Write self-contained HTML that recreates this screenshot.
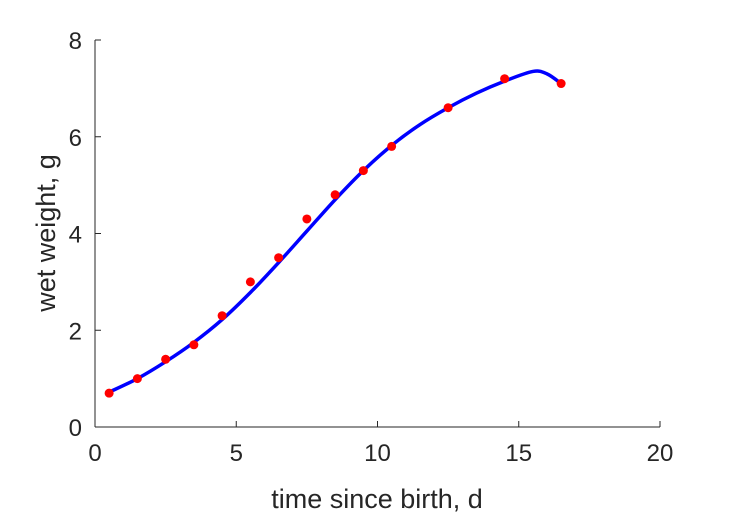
<!DOCTYPE html>
<html><head><meta charset="utf-8"><style>
body{margin:0;background:#fff}
svg{display:block;font-family:"Liberation Sans",sans-serif}
</style></head><body>
<svg id="chart" width="729" height="521" viewBox="0 0 729 521" xmlns="http://www.w3.org/2000/svg">
<rect width="729" height="521" fill="#fff"/>
<g id="axes"></g>
<g id="series"></g>
<text x="377" y="508" font-size="27" text-anchor="middle" fill="#262626">time since birth, d</text>
<text transform="translate(55,233) rotate(-90)" font-size="27" text-anchor="middle" fill="#262626">wet weight, g</text>
</svg>
<script>
const xTicks=[0,5,10,15,20];
const yTicks=[0,2,4,6,8];
const dataX=[0.5,1.5,2.5,3.5,4.5,5.5,6.5,7.5,8.5,9.5,10.5,12.5,14.5,16.5];
const dataY=[0.7,1.0,1.4,1.7,2.3,3.0,3.5,4.3,4.8,5.3,5.8,6.6,7.2,7.1];
const fitX=[0.5,1.5,2.5,3.5,4.5,5.5,6.5,7.5,8.5,9.5,10.5,11.5,12.5,13.5,14.5,15.5,16.0,16.5];
const fitY=[0.72,1.0,1.35,1.75,2.22,2.78,3.4,4.05,4.7,5.3,5.82,6.25,6.6,6.9,7.15,7.35,7.3,7.1];
const X0=95,X1=660,Y0=427,Y1=40;
const sx=v=>X0+(v-0)/(20-0)*(X1-X0);
const sy=v=>Y0-(v-0)/(8-0)*(Y0-Y1);
const NS="http://www.w3.org/2000/svg";
const axes=document.getElementById('axes'),ser=document.getElementById('series');
function mk(t,a,p){const e=document.createElementNS(NS,t);for(const k in a)e.setAttribute(k,a[k]);p.appendChild(e);return e;}
let xl=mk('line',{x1:X0,y1:Y0,x2:X1,y2:Y0,stroke:'#262626','stroke-width':1},axes);


let yl=mk('line',{x1:X0,y1:Y0,x2:X0,y2:Y1,stroke:'#262626','stroke-width':1},axes);


xTicks.forEach(t=>{
 mk('line',{x1:sx(t),y1:Y0,x2:sx(t),y2:Y0-6,stroke:'#262626'},axes);
 const tx=mk('text',{x:sx(t),y:Y0+34,'font-size':24,'text-anchor':'middle',fill:'#262626'},axes);
 tx.textContent=t;
 
 
});
yTicks.forEach(t=>{
 mk('line',{x1:X0,y1:sy(t),x2:X0+6,y2:sy(t),stroke:'#262626'},axes);
 const tx=mk('text',{x:X0-13,y:sy(t)+9,'font-size':24,'text-anchor':'end',fill:'#262626'},axes);
 tx.textContent=t;
 
 
});
// Catmull-Rom path
const P=fitX.map((x,i)=>[sx(x),sy(fitY[i])]);
let d='M'+P[0][0]+','+P[0][1];
for(let i=0;i<P.length-1;i++){
 const p0=P[Math.max(i-1,0)],p1=P[i],p2=P[i+1],p3=P[Math.min(i+2,P.length-1)];
 d+=' C'+(p1[0]+(p2[0]-p0[0])/6)+','+(p1[1]+(p2[1]-p0[1])/6)+' '+(p2[0]-(p3[0]-p1[0])/6)+','+(p2[1]-(p3[1]-p1[1])/6)+' '+p2[0]+','+p2[1];
}
const line=mk('path',{d:d,fill:'none',stroke:'#0000ff','stroke-width':3.5},ser);


dataX.forEach((x,i)=>{
 const c=mk('circle',{cx:sx(x),cy:sy(dataY[i]),r:4.5,fill:'#ff0000'},ser);
 
 
});
</script>
</body></html>
